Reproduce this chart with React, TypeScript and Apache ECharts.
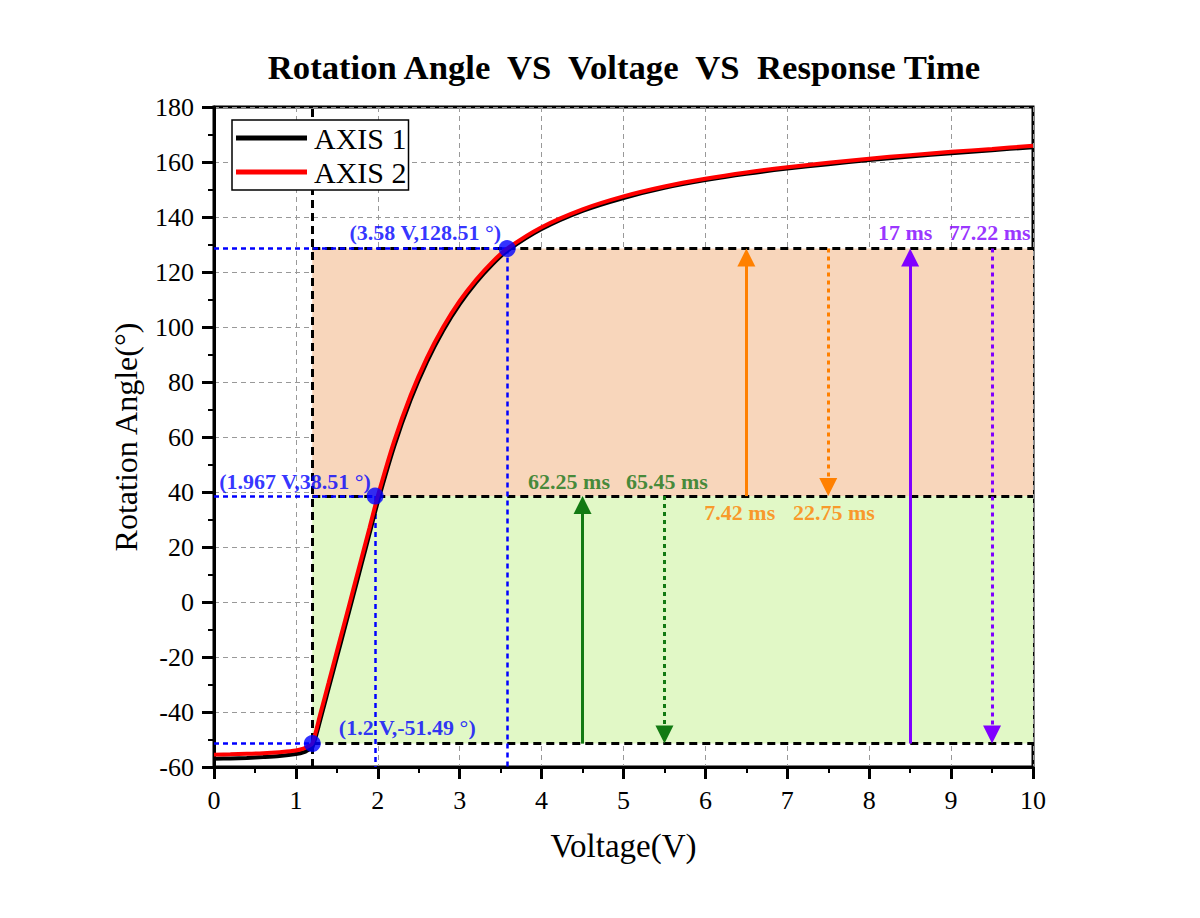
import React, { useEffect, useRef } from 'react';
import * as echarts from 'echarts';

// ---------- data ----------
const voltage = [0, 0.2, 0.4, 0.6, 0.8, 1.0, 1.1, 1.15, 1.2, 1.3, 1.4, 1.5, 1.6, 1.7, 1.8, 1.9, 2.0, 2.2, 2.4, 2.6, 2.8, 3.0, 3.2, 3.4, 3.58, 4.0, 4.5, 5, 5.5, 6, 6.5, 7, 7.5, 8, 8.5, 9, 9.5, 10];
const axis1Angle = [-57, -56.9, -56.7, -56.4, -56, -55.3, -54.6, -53.8, -52.9, -42.6, -31.4, -20.2, -9, 2.3, 13.6, 25, 36.4, 56.6, 73.4, 87.3, 98.8, 108.3, 116.2, 122.8, 127.7, 135.6, 142.2, 146.9, 150.6, 153.4, 155.7, 157.6, 159.2, 160.7, 162, 163.2, 164.3, 165.4];
const axis2Angle = [-55.5, -55.4, -55.2, -55, -54.6, -54, -53.2, -52.5, -51.5, -40.5, -29.3, -18, -6.8, 4.5, 15.8, 27.1, 38.5, 58.5, 75.1, 88.8, 100.1, 109.5, 117.2, 123.7, 128.5, 136.3, 142.8, 147.5, 151.1, 153.9, 156.2, 158.1, 159.7, 161.2, 162.5, 163.7, 164.75, 165.9];

const refVoltage = [1.2, 1.967, 3.58];
const refAngle = [-51.49, 38.51, 128.51];
const refLabels = ['(1.2 V,-51.49 °)', '(1.967 V,38.51 °)', '(3.58 V,128.51 °)'];
const refLabelPos = [[2.36, -45.5], [0.99, 44], [2.58, 134.2]];

// arrows: x, from level index, to level index, colour group, dotted
const arrowX = [4.5, 5.5, 6.5, 7.5, 8.5, 9.5];
const arrowFrom = [0, 1, 1, 2, 0, 2];
const arrowTo = [1, 0, 2, 1, 2, 0];
const arrowDotted = [false, true, false, true, false, true];
const arrowGroup = [0, 0, 1, 1, 2, 2];

const timeLabels = ['62.25 ms', '65.45 ms', '7.42 ms', '22.75 ms', '17 ms', '77.22 ms'];
const timeLabelPos = [[4.335, 44], [5.53, 44], [6.42, 32.4], [7.57, 32.4], [8.44, 134.5], [9.47, 134.5]];

const xMin = 0, xMax = 10, yMin = -60, yMax = 180;

// ---------- styles ----------
const SERIF = "'Times New Roman', 'Liberation Serif', serif";
const groupColors = ['#137a13', '#ff8000', '#8000ff'];
const textColors = ['#167516', '#ff8000', '#8000ff'];
const BLUE = '#0000ff';

export default function App() {
  const ref = useRef<HTMLDivElement>(null);

  useEffect(() => {
    document.body.style.margin = '0';
    const chart = echarts.init(ref.current!, null, { renderer: 'svg' });

    const pxPerUnitY = 660 / (yMax - yMin);
    const headHalf = 9 / pxPerUnitY;

    const blackDash = [
      { coords: [[refVoltage[0], yMin], [refVoltage[0], yMax]] },
      ...refAngle.map((a) => ({ coords: [[refVoltage[0], a], [xMax, a]] })),
    ];
    const blueDash = [
      ...refAngle.map((a, i) => ({ coords: [[xMin, a], [refVoltage[i], a]] })),
      { coords: [[refVoltage[1], refAngle[1]], [refVoltage[1], yMin]] },
      { coords: [[refVoltage[2], refAngle[2]], [refVoltage[2], yMin]] },
    ];

    const arrowSeries = arrowX.map((x, i) => {
      const from = refAngle[arrowFrom[i]];
      const to = refAngle[arrowTo[i]];
      const dir = to > from ? 1 : -1;
      return {
        type: 'lines',
        coordinateSystem: 'cartesian2d',
        z: 6,
        symbol: ['none', 'triangle'],
        symbolSize: [11, 18],
        lineStyle: {
          color: groupColors[arrowGroup[i]],
          width: 3,
          type: arrowDotted[i] ? [4, 4] : 'solid',
          opacity: 1,
        },
        data: [{ coords: [[x, from], [x, to - dir * headHalf]] }],
        silent: true,
      };
    });

    const labelStyle = {
      show: true,
      position: 'inside',
      fontSize: 22,
      fontWeight: 'bold',
      fontFamily: SERIF,
    };

    const option: any = {
      animation: false,
      backgroundColor: '#fff',
      title: {
        text: 'Rotation Angle  VS  Voltage  VS  Response Time',
        left: 619,
        top: 45,
        textAlign: 'center',
        textStyle: { fontSize: 34.7, fontWeight: 'bold', fontFamily: SERIF, color: '#000' },
      },
      legend: {
        data: ['AXIS 1', 'AXIS 2'],
        orient: 'vertical',
        left: 232,
        top: 120,
        icon: 'rect',
        itemWidth: 71,
        itemHeight: 5,
        itemGap: 4,
        padding: [3, 2, 3, 4],
        borderColor: '#000',
        borderWidth: 1.5,
        backgroundColor: '#fff',
        textStyle: { fontSize: 30, fontFamily: SERIF, color: '#000', padding: [0, 0, 0, 2] },
        z: 10,
      },
      grid: {
        left: 214,
        right: 167,
        top: 107,
        bottom: 151,
        show: true,
        borderColor: '#000',
        borderWidth: 3,
        backgroundColor: 'transparent',
      },
      xAxis: {
        type: 'value',
        min: xMin,
        max: xMax,
        interval: 1,
        z: 1,
        name: 'Voltage(V)',
        nameLocation: 'middle',
        nameGap: 62,
        nameTextStyle: { fontSize: 33, fontFamily: SERIF, color: '#000' },
        axisLine: { show: true, onZero: false, lineStyle: { color: '#000', width: 3 } },
        axisTick: { show: true, length: 12, lineStyle: { color: '#000', width: 3 } },
        minorTick: { show: true, splitNumber: 2, length: 6, lineStyle: { color: '#000', width: 2 } },
        axisLabel: { fontSize: 26, fontFamily: SERIF, color: '#000', margin: 20 },
        splitLine: { show: true, lineStyle: { color: '#999', width: 1, type: [5, 4] } },
      },
      yAxis: {
        type: 'value',
        min: yMin,
        max: yMax,
        interval: 20,
        z: 1,
        name: 'Rotation Angle(°)',
        nameLocation: 'middle',
        nameGap: 72,
        nameTextStyle: { fontSize: 32, fontFamily: SERIF, color: '#000' },
        axisLine: { show: true, onZero: false, lineStyle: { color: '#000', width: 3 } },
        axisTick: { show: true, length: 12, lineStyle: { color: '#000', width: 3 } },
        minorTick: { show: true, splitNumber: 2, length: 6, lineStyle: { color: '#000', width: 2 } },
        axisLabel: { fontSize: 26, fontFamily: SERIF, color: '#000', margin: 20 },
        splitLine: { show: true, lineStyle: { color: '#999', width: 1, type: [5, 4] } },
      },
      series: [
        {
          name: 'regions',
          type: 'line',
          z: 0,
          data: [],
          silent: true,
          markArea: {
            silent: true,
            itemStyle: { opacity: 1 },
            data: [
              [
                { coord: [refVoltage[0], refAngle[1]], itemStyle: { color: '#f8d6bb' } },
                { coord: [xMax, refAngle[2]] },
              ],
              [
                { coord: [refVoltage[0], refAngle[0]], itemStyle: { color: '#e1f8c6' } },
                { coord: [xMax, refAngle[1]] },
              ],
            ],
          },
        },
        {
          name: 'blackDash',
          type: 'lines',
          coordinateSystem: 'cartesian2d',
          z: 3,
          symbol: 'none',
          lineStyle: { color: '#000', width: 3, type: [8, 5], opacity: 1 },
          data: blackDash,
          silent: true,
        },
        {
          name: 'blueDash',
          type: 'lines',
          coordinateSystem: 'cartesian2d',
          z: 3,
          symbol: 'none',
          lineStyle: { color: BLUE, width: 2.5, type: [5, 4], opacity: 1 },
          data: blueDash,
          silent: true,
        },
        {
          name: 'AXIS 1',
          type: 'line',
          z: 4,
          color: '#000',
          showSymbol: false,
          symbol: 'none',
          smooth: 0.3,
          lineStyle: { color: '#000', width: 4 },
          data: voltage.map((v, i) => [v, axis1Angle[i]]),
        },
        {
          name: 'AXIS 2',
          type: 'line',
          z: 5,
          color: '#ff0000',
          showSymbol: false,
          symbol: 'none',
          smooth: 0.3,
          lineStyle: { color: '#ff0000', width: 4 },
          data: voltage.map((v, i) => [v, axis2Angle[i]]),
        },
        ...arrowSeries,
        {
          name: 'refPoints',
          type: 'scatter',
          z: 7,
          symbol: 'circle',
          symbolSize: 17,
          itemStyle: { color: BLUE },
          data: refVoltage.map((v, i) => [v, refAngle[i]]),
          silent: true,
        },
        {
          name: 'refLabels',
          type: 'scatter',
          z: 8,
          symbolSize: 1,
          itemStyle: { color: 'transparent' },
          silent: true,
          label: {
            ...labelStyle,
            color: BLUE,
            formatter: (p: any) => refLabels[p.dataIndex],
          },
          data: refLabelPos.map((p) => [p[0], p[1]]),
        },
        {
          name: 'timeLabels',
          type: 'scatter',
          z: 8,
          symbolSize: 1,
          itemStyle: { color: 'transparent' },
          silent: true,
          label: {
            ...labelStyle,
            formatter: (p: any) => timeLabels[p.dataIndex],
          },
          data: timeLabelPos.map((p, i) => ({
            value: [p[0], p[1]],
            label: { color: textColors[arrowGroup[i]] },
          })),
        },
      ],
    };

    chart.setOption(option);
    return () => chart.dispose();
  }, []);

  return <div ref={ref} style={{ width: 1200, height: 918 }} />;
}
